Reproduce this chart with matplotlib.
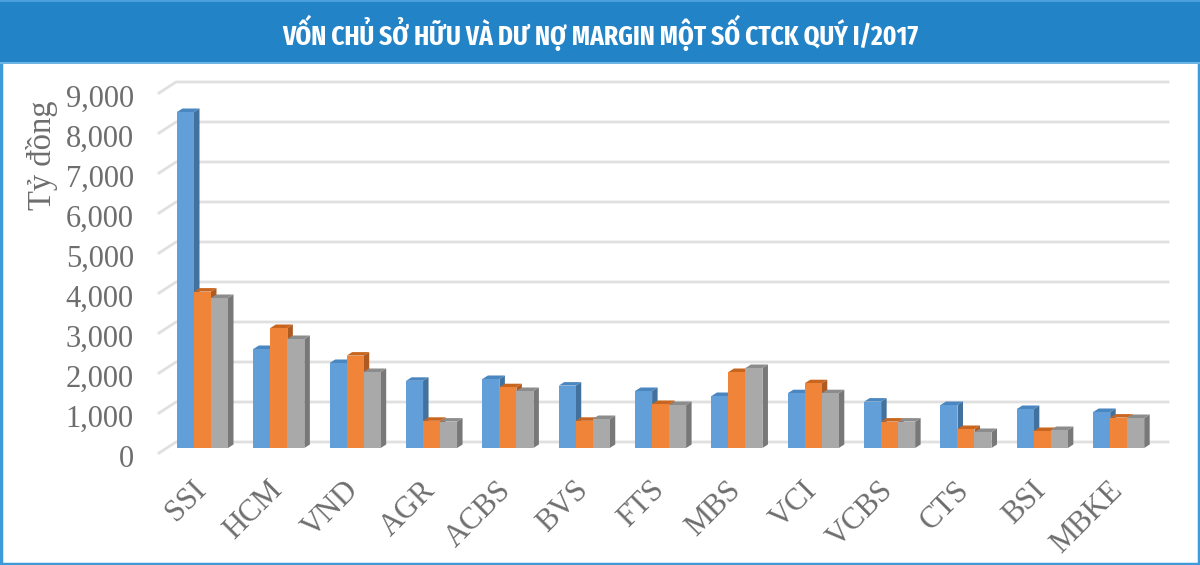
import matplotlib
matplotlib.use("Agg")
import matplotlib.pyplot as plt
from matplotlib import font_manager as fm
from matplotlib.patches import Polygon, Rectangle
from matplotlib.transforms import ScaledTranslation
import numpy as np

categories = ["SSI", "HCM", "VND", "AGR", "ACBS", "BVS", "FTS", "MBS", "VCI", "VCBS", "CTS", "BSI", "MBKE"]
series_a = [8400, 2475, 2125, 1680, 1725, 1560, 1425, 1300, 1370, 1160, 1075, 975, 900]
series_b = [3910, 3000, 2310, 680, 1520, 680, 1100, 1900, 1620, 660, 475, 425, 760]
series_c = [3750, 2725, 1900, 660, 1425, 725, 1075, 2000, 1370, 660, 400, 450, 750]
y_ticks = [0, 1000, 2000, 3000, 4000, 5000, 6000, 7000, 8000, 9000]
y_labels = ["0", "1,000", "2,000", "3,000", "4,000", "5,000", "6,000", "7,000", "8,000", "9,000"]
title = "VỐN CHỦ SỞ HỮU VÀ DƯ NỢ MARGIN MỘT SỐ CTCK QUÝ I/2017"
y_title = "Tỷ đồng"

W, H = 1200, 565
fig = plt.figure(figsize=(W / 100, H / 100), dpi=100, facecolor="white")

installed = {f.name for f in fm.fontManager.ttflist}
title_font = next((n for n in ["Fira Sans Extra Condensed", "Fira Sans Condensed", "Barlow Condensed",
                               "Roboto Condensed", "Liberation Sans"] if n in installed), "DejaVu Sans")

# page frame and header
bg = fig.add_axes([0, 0, 1, 1], zorder=0)
bg.set_xlim(0, W); bg.set_ylim(H, 0); bg.axis("off")
bg.add_patch(Rectangle((1, 1), W - 2, H - 2, fc="white", ec="#3f9bd8", lw=2.5))
bg.add_patch(Rectangle((0, 0), W, 62, fc="#2383c7", ec="none"))
bg.add_patch(Rectangle((0, 0), W, 1.5, fc="#4a9fdc", ec="none"))
bg.add_patch(Rectangle((0, 62), W, 2, fc="#6cb4e4", ec="none"))
bg.text(600, 32.5, title, color="white", ha="center", va="center", fontsize=19.7,
        fontweight="bold", family=title_font)

# chart: 1 category = 76.35 px, 1000 units = 40 px, y=0 at pixel 448
px_x = 76.35
px_y = 0.04
x_px0 = 159.0
x_px1 = 1168.0
y_px0 = 448.0
y_px1 = 62.0
ax = fig.add_axes([x_px0 / W, 1 - y_px0 / H, (x_px1 - x_px0) / W, (y_px0 - y_px1) / H], zorder=1)
first = 202.5
ax.set_xlim((x_px0 - first) / px_x, (x_px1 - first) / px_x)
ax.set_ylim(0, (y_px0 - y_px1) / px_y)
ax.patch.set_alpha(0)
for s in ax.spines.values():
    s.set_visible(False)

dx = 5.5 / px_x
dy = 3.5 / px_y
w = 17 / px_x

for v in y_ticks:
    ax.plot([(159 - first) / px_x, (176 - first) / px_x, (1168 - first) / px_x],
            [v - 5 / px_y, v + 6 / px_y, v + 6 / px_y],
            color="#e0e0e0", lw=2.0, clip_on=False, zorder=1, solid_joinstyle="round")

styles = [(series_a, "#629fd9", "#41719c", "#4a86c0"),
          (series_b, "#f0853a", "#ae5a21", "#c8651f"),
          (series_c, "#a9a9a9", "#787878", "#8c8c8c")]
xs = np.arange(len(categories))
for k, (vals, front, side, top) in enumerate(styles):
    off = (k - 1) * w
    z = 3 + 2 * k
    ax.bar(xs + off, vals, width=w, color=front, zorder=z + 1, lw=0)
    for x, v in zip(xs + off, vals):
        r = x + w / 2
        l = x - w / 2
        ax.add_patch(Polygon([(r, 0), (r + dx, dy), (r + dx, v + dy), (r, v)], fc=side, ec="none", zorder=z))
        ax.add_patch(Polygon([(l, v), (l + dx, v + dy), (r + dx, v + dy), (r, v)], fc=top, ec="none", zorder=z))

serif = "Liberation Serif"
ax.set_yticks(y_ticks, y_labels)
ax.set_xticks(xs, categories)
ax.tick_params(length=0)
ax.tick_params(axis="y", pad=18, labelsize=22, labelcolor="#6e6e6e")
ax.tick_params(axis="x", pad=20, labelsize=22, labelcolor="#6e6e6e")
ytrans = ScaledTranslation(0, -8 / 100, fig.dpi_scale_trans)
for lab in ax.get_yticklabels():
    lab.set_fontfamily(serif)
    lab.set_transform(lab.get_transform() + ytrans)
xtrans = ScaledTranslation(-11 / 100, 0, fig.dpi_scale_trans)
for lab in ax.get_xticklabels():
    lab.set_fontfamily(serif)
    lab.set_rotation(45)
    lab.set_ha("right")
    lab.set_va("top")
    lab.set_rotation_mode("anchor")
    lab.set_transform(lab.get_transform() + xtrans)
fig.text(42 / W, 1 - 155 / H, y_title, rotation=90, ha="center", va="center",
         fontsize=23.5, color="#6e6e6e", family=serif)

fig.savefig("out.png", dpi=100)
